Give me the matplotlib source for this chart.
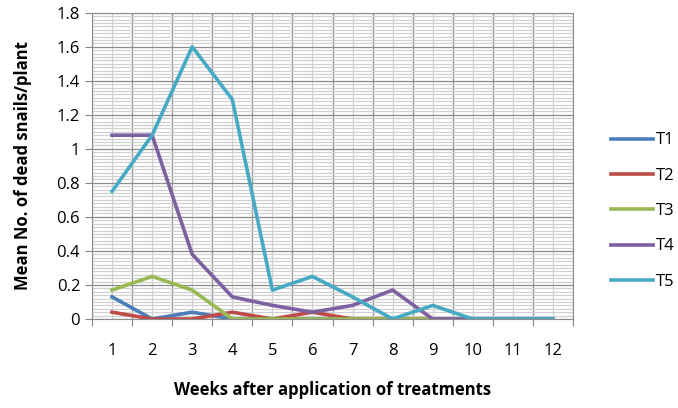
import matplotlib.pyplot as plt
from matplotlib.ticker import MultipleLocator, FixedLocator, FormatStrFormatter

weeks = [1, 2, 3, 4, 5, 6, 7, 8, 9, 10, 11, 12]
t1 = [0.13, 0.0, 0.04, 0.0, 0.0, 0.0, 0.0, 0.0, 0.0, 0.0, 0.0, 0.0]
t2 = [0.04, 0.0, 0.0, 0.04, 0.0, 0.04, 0.0, 0.0, 0.0, 0.0, 0.0, 0.0]
t3 = [0.17, 0.25, 0.17, 0.0, 0.0, 0.0, 0.0, 0.0, 0.0, 0.0, 0.0, 0.0]
t4 = [1.08, 1.08, 0.38, 0.13, 0.08, 0.04, 0.08, 0.17, 0.0, 0.0, 0.0, 0.0]
t5 = [0.75, 1.08, 1.6, 1.29, 0.17, 0.25, 0.13, 0.0, 0.08, 0.0, 0.0, 0.0]

series = [("T1", t1, "#4A7EBB"), ("T2", t2, "#BE4B48"), ("T3", t3, "#98B954"),
          ("T4", t4, "#7D60A0"), ("T5", t5, "#46AAC5")]

plt.rcParams['font.family'] = ['Open Sans', 'DejaVu Sans']

fig = plt.figure(figsize=(6.78, 4.08), dpi=100)
ax = fig.add_axes([92/678, 89/408, (573-92)/678, (319-12.7)/408])

for name, vals, col in series:
    ax.plot(weeks, vals, color=col, linewidth=2.6, label=name, zorder=3)

ax.set_xlim(0.5, 12.5)
ax.set_ylim(0, 1.8)

# category boundaries as major ticks, centers as minor ticks with labels
ax.xaxis.set_major_locator(MultipleLocator(1, offset=0.5))
ax.xaxis.set_minor_locator(FixedLocator(weeks))
ax.set_xticklabels([], minor=False)
ax.set_xticks(weeks, [str(w) for w in weeks], minor=True)
ax.tick_params(axis='x', which='major', length=5, color='#868686', direction='out')
ax.tick_params(axis='x', which='minor', length=0, pad=17, labelsize=12)

ax.yaxis.set_major_locator(MultipleLocator(0.2))
ax.yaxis.set_minor_locator(MultipleLocator(0.02))
ax.yaxis.set_major_formatter(FormatStrFormatter('%g'))
ax.tick_params(axis='y', which='major', length=5, color='#868686', labelsize=12)
ax.tick_params(axis='y', which='minor', length=0)

ax.grid(which='major', color='#8c8c8c', linewidth=0.9)
ax.grid(which='minor', color='#d0d0d0', linewidth=0.9)
ax.set_axisbelow(True)
for s in ax.spines.values():
    s.set_color('#8c8c8c')

ax.set_ylabel("Mean No. of dead snails/plant", fontsize=12, fontweight='bold', labelpad=18)
ax.set_xlabel("Weeks after application of treatments", fontsize=12, fontweight='bold', labelpad=16)

ax.legend(loc='center left', bbox_to_anchor=(596/678, 197/408), bbox_transform=fig.transFigure,
          frameon=False, fontsize=12, handlelength=2.5, handletextpad=0.2, labelspacing=1.16)

fig.savefig("out.png", dpi=100)
